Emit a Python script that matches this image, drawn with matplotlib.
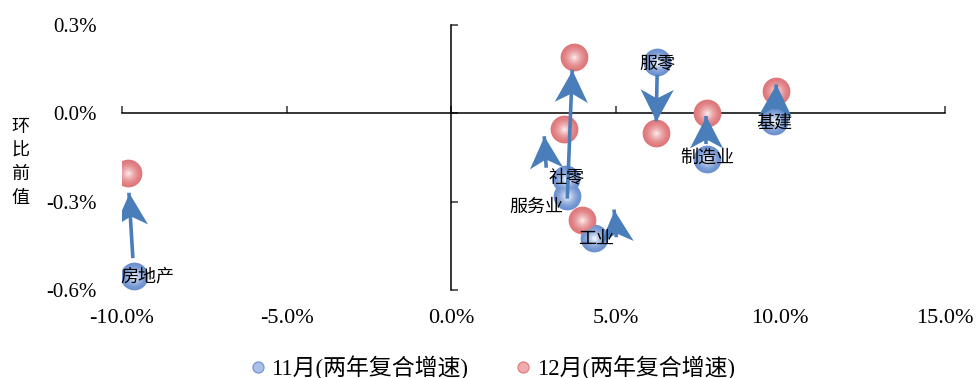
import matplotlib.pyplot as plt
import numpy as np
from matplotlib.colors import to_rgb
from matplotlib.lines import Line2D
from matplotlib.markers import MarkerStyle
from matplotlib.path import Path
from matplotlib.ticker import FuncFormatter
from matplotlib.transforms import Affine2D

plt.rcParams["font.family"] = ["Liberation Serif", "Noto Sans CJK SC"]

# 各行业：横轴为两年复合增速(%)，纵轴为环比前值(%)
sectors = ["房地产", "社零", "服务业", "工业", "服零", "制造业", "基建"]
nov_x = [-9.64, 3.50, 3.53, 4.35, 6.26, 7.78, 9.82]
nov_y = [-0.553, -0.222, -0.280, -0.425, 0.175, -0.155, -0.027]
dec_x = [-9.82, 3.43, 3.74, 3.98, 6.23, 7.78, 9.88]
dec_y = [-0.202, -0.054, 0.192, -0.364, -0.067, 0.0, 0.074]

# 箭头起点与终点
arrow_x0 = [-9.67, 2.89, 3.53, 5.02, 6.26, 7.75, 9.85]
arrow_y0 = [-0.492, -0.185, -0.290, -0.421, 0.131, -0.104, 0.013]
arrow_x1 = [-9.79, 2.83, 3.68, 4.95, 6.23, 7.75, 9.88]
arrow_y1 = [-0.270, -0.078, 0.148, -0.327, -0.027, -0.010, 0.098]

# 标签位置
label_x = [-9.24, 3.50, 3.40, 4.40, 6.28, 7.78, 9.82]
label_y = [-0.553, -0.222, -0.318, -0.425, 0.170, -0.152, -0.033]
label_ha = ["center", "center", "right", "center", "center", "center", "center"]

x_ticks = [-10, -5, 0, 5, 10, 15]
y_ticks = [-0.6, -0.3, 0.0, 0.3]

legend_labels = ["11月(两年复合增速)", "12月(两年复合增速)"]
blue_edge, blue_center = "#6c91d0", "#f1f5fc"
red_edge, red_center = "#de777b", "#fce6e6"
arrow_color = "#4a7ebb"

# 燕尾形箭头，尖端在原点、朝 +x
head_path = Path([(0, 0), (-1, 0.52), (-0.72, 0), (-1, -0.52), (0, 0)],
                 [Path.MOVETO, Path.LINETO, Path.LINETO, Path.LINETO, Path.CLOSEPOLY])


def sphere(ax, xs, ys, edge, center, size=400, layers=14, z=3):
    # 多层同心圆叠出球面高光
    c0 = np.array(to_rgb(edge))
    c1 = np.array(to_rgb(center))
    for i in range(layers):
        t = i / (layers - 1)
        frac = 1.0 - 0.92 * t
        col = c0 + (c1 - c0) * t ** 1.6
        ax.scatter(xs, ys, s=size * frac ** 2, color=col, linewidths=0,
                   zorder=z + i * 0.001)


fig = plt.figure(figsize=(9.76, 3.78), dpi=100)
ax = fig.add_axes([0.125, 0.233, 0.843, 0.701])
ax.set_xlim(-10, 15)
ax.set_ylim(-0.6, 0.3)

for side in ("top", "right"):
    ax.spines[side].set_visible(False)
ax.spines["bottom"].set_position(("data", 0))
ax.spines["left"].set_position(("data", 0))
for side in ("bottom", "left"):
    ax.spines[side].set_linewidth(1.1)
    ax.spines[side].set_zorder(2)
ax.set_xticks(x_ticks)
ax.set_yticks(y_ticks)
ax.tick_params(direction="in", length=5, width=1.1, color="#333333",
               labelbottom=False, labelleft=False)

pct = FuncFormatter(lambda v, _: f"{v:.1f}%")
sec_x = ax.secondary_xaxis("bottom")
sec_x.set_xticks(x_ticks)
sec_x.xaxis.set_major_formatter(pct)
sec_x.tick_params(length=0, pad=14, labelsize=16)
sec_x.spines["bottom"].set_visible(False)

sec_y = ax.secondary_yaxis("left")
sec_y.set_yticks(y_ticks)
sec_y.yaxis.set_major_formatter(pct)
sec_y.tick_params(length=0, pad=18, labelsize=15)
sec_y.spines["left"].set_visible(False)

fig.text(0.021, 0.57, "\n".join("环比前值"), ha="center", va="center",
         fontsize=13, linespacing=1.4, family=["Noto Sans CJK SC"])

sphere(ax, nov_x, nov_y, blue_edge, blue_center)
sphere(ax, dec_x, dec_y, red_edge, red_center)

for x0, y0, x1, y1 in zip(arrow_x0, arrow_y0, arrow_x1, arrow_y1):
    ax.plot([x0, x1], [y0, y1], color=arrow_color, lw=2.6,
            solid_capstyle="butt", zorder=5)
    (px0, py0), (px1, py1) = ax.transData.transform([(x0, y0), (x1, y1)])
    ang = np.degrees(np.arctan2(py1 - py0, px1 - px0))
    head = MarkerStyle(head_path, transform=Affine2D().rotate_deg(ang))
    ax.plot([x1], [y1], marker=head, markersize=46, color=arrow_color,
            markeredgewidth=0, linestyle="none", zorder=5)

for name, lx, ly, ha in zip(sectors, label_x, label_y, label_ha):
    ax.text(lx, ly, name, ha=ha, va="center", fontsize=13, zorder=6,
            family=["Noto Sans CJK SC"])

handles = [
    Line2D([], [], marker="o", linestyle="none", markersize=8,
           markerfacecolor="#a9c0e8", markeredgecolor=blue_edge, markeredgewidth=0.8),
    Line2D([], [], marker="o", linestyle="none", markersize=8,
           markerfacecolor="#eeaaac", markeredgecolor=red_edge, markeredgewidth=0.8),
]
fig.legend(handles, legend_labels, loc="center", bbox_to_anchor=(0.504, 0.028),
           ncol=2, frameon=False, fontsize=16.5, handletextpad=0.2,
           columnspacing=2.0, handlelength=0.8)

fig.savefig("out.png", dpi=100)
